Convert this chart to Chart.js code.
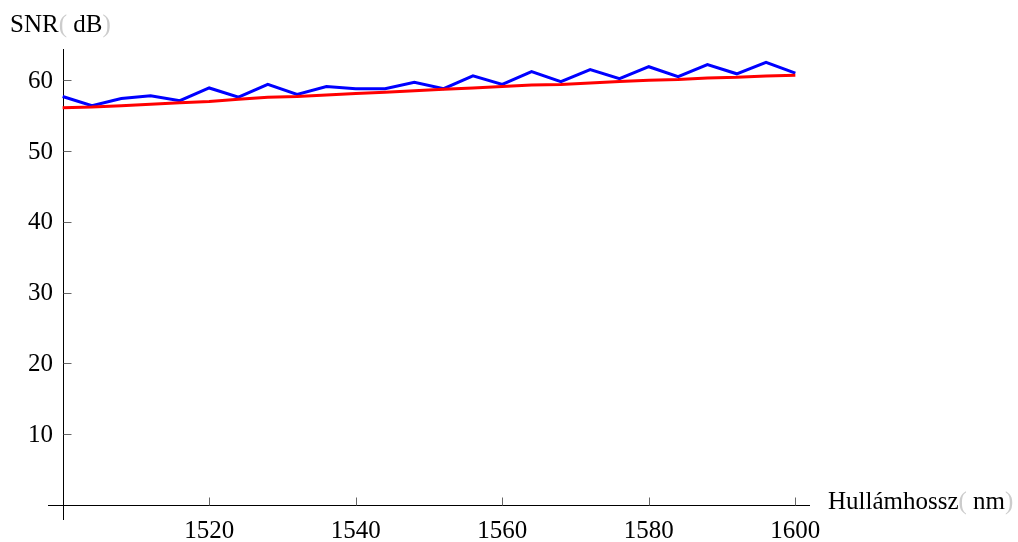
<!DOCTYPE html>
<html>
<head>
<meta charset="utf-8">
<script src="https://cdn.jsdelivr.net/npm/chart.js@4"></script>
<style>
body{margin:0;background:#fff;}
#wrap{width:1018px;height:542px;position:relative;}
</style>
</head>
<body>
<div id="wrap"><canvas id="snrChart"></canvas></div>
<script>
// wavelengths (nm)
const wavelengths = [1500,1504,1508,1512,1516,1520,1524,1528,1532,1536,1540,1544,1548,
1552,1556,1560,1564,1568,1572,1576,1580,1584,1588,1592,1596,1600];
// blue curve (dB)
const snrBlue = [57.7,56.4,57.4,57.8,57.1,58.9,57.6,59.4,58.0,59.1,58.8,58.8,59.7,
58.8,60.6,59.4,61.2,59.8,61.5,60.2,61.9,60.5,62.2,60.9,62.5,61.0];
// red curve (dB)
const snrRed = [56.1,56.2,56.4,56.6,56.8,57.0,57.3,57.6,57.7,57.9,58.1,58.3,58.5,
58.7,58.9,59.1,59.3,59.4,59.6,59.8,60.0,60.1,60.3,60.4,60.6,60.7];
const xTicks = [1520,1540,1560,1580,1600];
const yTicks = [10,20,30,40,50,60];

const font = '"Liberation Serif", "DejaVu Serif", serif';

function pts(ys){
return wavelengths.map((x,i)=>({x:x,y:ys[i]}));
}

// draws the crossing axes, inward ticks and labels
const axesPlugin = {
id:'axes',
beforeDatasetsDraw(chart){
const ctx = chart.ctx;
const xs = chart.scales.x, ys = chart.scales.y;
const area = chart.chartArea;
const x0 = Math.round(xs.getPixelForValue(1500))+0.5;
const y0 = Math.round(ys.getPixelForValue(0))+0.5;
ctx.save();
ctx.strokeStyle = '#000';
ctx.lineWidth = 1;
ctx.beginPath();
ctx.moveTo(area.left,y0); ctx.lineTo(area.right,y0);
ctx.moveTo(x0,area.top); ctx.lineTo(x0,area.bottom);
ctx.stroke();

ctx.strokeStyle = '#666';
ctx.beginPath();
xTicks.forEach(v=>{
const px = Math.round(xs.getPixelForValue(v))+0.5;
ctx.moveTo(px,y0); ctx.lineTo(px,y0-8);
});
yTicks.forEach(v=>{
const py = Math.round(ys.getPixelForValue(v))+0.5;
ctx.moveTo(x0,py); ctx.lineTo(x0+8,py);
});
ctx.stroke();

ctx.fillStyle = '#000';
ctx.font = '25px '+font;
ctx.textAlign = 'center';
ctx.textBaseline = 'alphabetic';
xTicks.forEach(v=>{
ctx.fillText(String(v),xs.getPixelForValue(v),538);
});
ctx.textAlign = 'right';
ctx.textBaseline = 'middle';
yTicks.forEach(v=>{
ctx.fillText(String(v),53,ys.getPixelForValue(v)+1);
});

// axis titles with faint brackets
function label(parts,x,y){
ctx.textAlign = 'left';
ctx.textBaseline = 'alphabetic';
let cx = x;
parts.forEach(p=>{
ctx.fillStyle = p[1];
ctx.fillText(p[0],cx,y);
cx += ctx.measureText(p[0]).width;
});
}
ctx.font = '25px '+font;
label([['SNR','#000'],['(','#ccc'],[' dB','#000'],[')','#ccc']],10,32);
label([['Hullámhossz','#000'],['(','#ccc'],[' nm','#000'],[')','#ccc']],828,509);
ctx.restore();
}
};

new Chart(document.getElementById('snrChart'),{
type:'line',
data:{
datasets:[
{data:pts(snrRed),borderColor:'#ff0000',borderWidth:3,pointRadius:0,tension:0,order:0},
{data:pts(snrBlue),borderColor:'#0000ff',borderWidth:3,pointRadius:0,tension:0,order:1}
]
},
options:{
responsive:true,
maintainAspectRatio:false,
animation:false,
layout:{padding:{left:48,right:208,top:49,bottom:22}},
scales:{
x:{type:'linear',min:1498,max:1602,display:false},
y:{type:'linear',min:-2.1,max:64.4,display:false}
},
plugins:{legend:{display:false},tooltip:{enabled:false}}
},
plugins:[axesPlugin]
});
</script>
</body>
</html>
